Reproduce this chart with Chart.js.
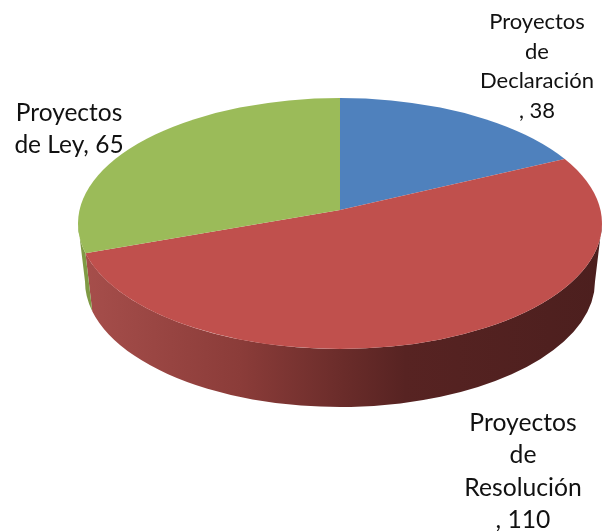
<!DOCTYPE html>
<html>
<head>
<meta charset="utf-8">
<style>
    html, body { margin: 0; padding: 0; background: #fff; }
    canvas { display: block; }
</style>
<script src="https://cdn.jsdelivr.net/npm/chart.js@4"></script>
</head>
<body>
<canvas id="pieChart" width="612" height="531"></canvas>
<script>
const categories = ["Proyectos de Declaración", "Proyectos de Resolución", "Proyectos de Ley"];
const values = [38, 110, 65];
const labelLines = [
    ["Proyectos", "de", "Declaración", ", 38"],
    ["Proyectos", "de", "Resolución", ", 110"],
    ["Proyectos", "de Ley, 65"],
];
const sliceColors = ["#4F81BD", "#C0504D", "#9BBB59"];

// Posicion y estilo de cada etiqueta
const labelStyles = [
    { x: 537, y: 22, size: 22, step: 29.5 },
    { x: 523, y: 423, size: 24.7, step: 32.3 },
    { x: 69, y: 113, size: 24.5, step: 32 },
];

// Cara superior (elipse) y vertice de la tarta, con perspectiva
const rim = { cx: 340, cy: 223.5, rx: 262, ry: 125.5 };
const vertex = { x: 340, y: 210 };
const squash = 0.47;
const zoom = 1.3;
const depth = 58;
const bottomRx = 255;

// Colores de la pared lateral, por porcion
const wallStops = [
    null,
    [[0, "#A64E4B"], [0.3, "#8B3C39"], [0.5, "#6A2C2A"], [0.62, "#572322"], [1, "#4C1F1E"]],
    [[0, "#7F9A45"], [1, "#7F9A45"]],
];

// Angulo sobre la elipse donde termina el radio de la porcion
function rimAngle(angle) {
    const dx = Math.cos(angle);
    const dy = Math.sin(angle) * squash;
    const ox = (vertex.x - rim.cx) / rim.rx;
    const oy = (vertex.y - rim.cy) / rim.ry;
    const ux = dx / rim.rx;
    const uy = dy / rim.ry;
    const a = ux * ux + uy * uy;
    const b = 2 * (ox * ux + oy * uy);
    const c = ox * ox + oy * oy - 1;
    const t = (-b + Math.sqrt(b * b - 4 * a * c)) / (2 * a);
    return Math.atan2(oy + uy * t, ox + ux * t);
}

const pie3d = {
    id: "pie3d",
    beforeDatasetsDraw(chart) {
        const ctx = chart.ctx;
        const arcs = chart.getDatasetMeta(0).data;

        // Pared lateral: solo la mitad frontal de la elipse
        arcs.forEach((arc, i) => {
            if (!wallStops[i]) return;
            let from = rimAngle(arc.startAngle);
            let to = rimAngle(arc.endAngle);
            if (to < from) to += Math.PI * 2;
            from = Math.max(from, 0);
            to = Math.min(to, Math.PI);
            if (from >= to) return;

            const grad = ctx.createLinearGradient(85, 0, 602, 0);
            wallStops[i].forEach((s) => grad.addColorStop(s[0], s[1]));

            ctx.save();
            ctx.beginPath();
            ctx.ellipse(rim.cx, rim.cy, rim.rx, rim.ry, 0, from, to);
            ctx.ellipse(rim.cx, rim.cy + depth, bottomRx, rim.ry, 0, to, from, true);
            ctx.closePath();
            ctx.fillStyle = grad;
            ctx.fill();
            ctx.restore();
        });

        // Cara superior: las porciones de Chart.js recortadas por la elipse
        const cx = arcs[0].x;
        const cy = arcs[0].y;
        ctx.save();
        ctx.beginPath();
        ctx.ellipse(rim.cx, rim.cy, rim.rx, rim.ry, 0, 0, Math.PI * 2);
        ctx.clip();
        ctx.translate(vertex.x, vertex.y);
        ctx.scale(zoom, zoom * squash);
        ctx.translate(-cx, -cy);
    },
    afterDatasetsDraw(chart) {
        chart.ctx.restore();
    },
    afterDraw(chart) {
        const ctx = chart.ctx;
        ctx.save();
        ctx.fillStyle = "#111";
        ctx.textAlign = "center";
        ctx.textBaseline = "middle";
        labelLines.forEach((lines, i) => {
            const st = labelStyles[i];
            ctx.font = st.size + 'px Lato';
            lines.forEach((line, j) => ctx.fillText(line, st.x, st.y + j * st.step));
        });
        ctx.restore();
    },
};

new Chart(document.getElementById("pieChart").getContext("2d"), {
    type: "pie",
    data: {
        labels: categories,
        datasets: [{
            data: values,
            backgroundColor: sliceColors,
            borderWidth: 0,
            clip: false,
        }],
    },
    options: {
        responsive: false,
        animation: false,
        plugins: {
            legend: { display: false },
            tooltip: { enabled: false },
        },
    },
    plugins: [pie3d],
});
</script>
</body>
</html>
